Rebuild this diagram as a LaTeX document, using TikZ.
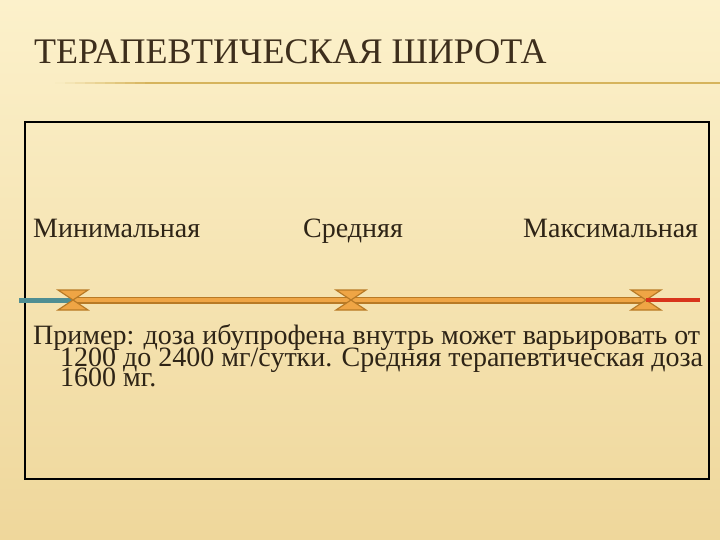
\documentclass[tikz,border=0pt]{standalone}
\usepackage{fontspec}
\setmainfont{Liberation Serif}
\definecolor{bgtop}{HTML}{FCF1CB}
\definecolor{bgbot}{HTML}{EFD79B}
\definecolor{txt}{HTML}{2E2416}
\definecolor{titlecol}{HTML}{3D2E1C}
\definecolor{rulegold}{HTML}{D6B45C}
\definecolor{orangefill}{HTML}{EFA545}
\definecolor{orangeedge}{HTML}{B87A26}
\definecolor{tealc}{HTML}{4F8E93}
\definecolor{redc}{HTML}{D8341C}
\tikzset{
  label/.style={anchor=base west, inner sep=0pt, text=txt, font=\fontsize{28}{30}\selectfont},
  bodyline/.style={anchor=base west, inner sep=0pt, text=txt, font=\fontsize{28}{30}\selectfont},
  hourglass/.pic={\filldraw[fill=orangefill, draw=orangeedge, line width=1.2pt, line join=miter]
      (-15,-10) -- (15,-10) -- (-15,10) -- (15,10) -- cycle;}
}
\begin{document}
\begin{tikzpicture}[x=1pt, y=-1pt]
\useasboundingbox (0,0) rectangle (720,540);
\shade[top color=bgtop, bottom color=bgbot] (0,0) rectangle (720,540);
% title
\node[anchor=base west, inner sep=0pt, text=titlecol, font=\fontsize{36}{38}\selectfont] (title) at (34,64) {ТЕРАПЕВТИЧЕСКАЯ ШИРОТА};
\foreach \i in {0,...,9}{
  \pgfmathsetmacro{\p}{10*(\i+1)}
  \fill[rulegold!\p!bgtop] ({55+10*\i},82) rectangle ({65.5+10*\i},84);
}
\fill[rulegold] (155,82) rectangle (720,84);
% frame
\draw[line width=1.3pt, black] (25,122) rectangle (709,479);
% labels
\node[label] (min) at (33,237) {Минимальная};
\node[label] (mid) at (303,237) {Средняя};
\node[label] (max) at (523,237) {Максимальная};
% scale
\coordinate (tealstart) at (19,300);
\coordinate (h1) at (73,300);
\coordinate (h2) at (351,300);
\coordinate (h3) at (646,300);
\coordinate (redend) at (700,300);
\draw[tealc, line width=5pt] (tealstart) -- (h1);
\draw[orangeedge, line width=7pt] (h1) -- (h3);
\draw[orangefill, line width=4pt] (h1) -- (h3);
\pic at (h1) {hourglass};
\pic at (h2) {hourglass};
\pic at (h3) {hourglass};
\draw[redc, line width=4pt] (h3) -- (redend);
% body text
\node[bodyline] (l1) at (33,344) {Пример: доза ибупрофена внутрь может варьировать от};
\node[bodyline] (l2) at (60,366) {1200 до 2400 мг/сутки. Средняя терапевтическая доза};
\node[bodyline] (l3) at (60,386) {1600 мг.};
\end{tikzpicture}
\end{document}
